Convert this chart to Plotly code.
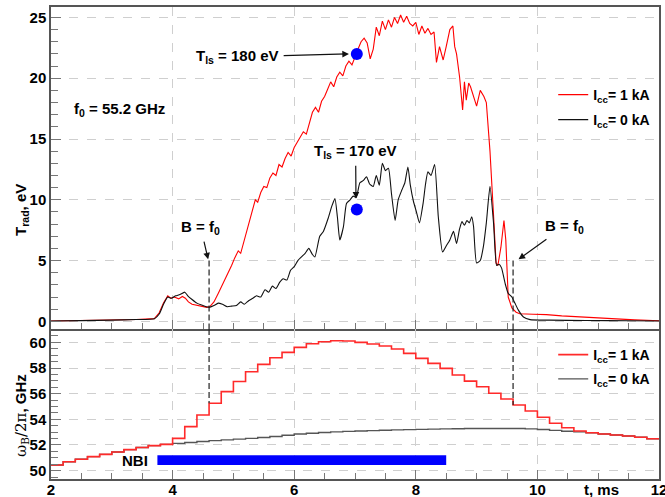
import plotly.graph_objects as go

# ---------------- data ----------------
# top panel: radiation temperature, eV
t_red = [2.0, 2.5, 3.0, 3.4, 3.7, 3.78, 3.85, 3.92, 3.97, 4.03, 4.1, 4.16, 4.21, 4.26, 4.32, 4.4, 4.48,
         4.56, 4.62, 4.68, 4.75, 4.82, 4.9, 4.97, 5.02, 5.08, 5.12, 5.17, 5.22, 5.27, 5.32, 5.36, 5.4,
         5.45, 5.5, 5.55, 5.6, 5.65, 5.7, 5.75, 5.8, 5.85, 5.9, 5.95, 6.0, 6.05, 6.1, 6.15, 6.2, 6.25,
         6.3, 6.35, 6.4, 6.45, 6.5, 6.55, 6.6, 6.65, 6.7, 6.75, 6.8, 6.85, 6.9, 6.95, 7.0, 7.05, 7.1,
         7.15, 7.2, 7.25, 7.3, 7.35, 7.4, 7.45, 7.5, 7.55, 7.6, 7.65, 7.7, 7.75, 7.8, 7.85, 7.9, 7.95,
         8.0, 8.05, 8.1, 8.15, 8.2, 8.25, 8.3, 8.34, 8.39, 8.45, 8.5, 8.56, 8.61, 8.64, 8.67, 8.72,
         8.77, 8.8, 8.83, 8.87, 8.9, 8.96, 9.0, 9.06, 9.12, 9.16, 9.22, 9.28, 9.32, 9.35, 9.4, 9.45,
         9.48, 9.52, 9.58, 9.65, 9.71, 9.93, 10.15, 10.4, 10.7, 11.0, 11.25, 11.6, 12.0]
trad_red = [0.03, 0.06, 0.1, 0.15, 0.22, 0.7, 1.5, 2.1, 1.9, 2.0, 1.85, 2.05, 1.9, 1.6, 1.4, 1.3, 1.2,
            1.15, 1.25, 1.6, 2.3, 3.0, 3.9, 4.6, 5.2, 5.8, 5.6, 6.5, 7.3, 8.2, 9.3, 10.0, 9.8,
            10.6, 11.1, 11.0, 11.8, 12.2, 12.0, 12.9, 12.7, 13.4, 13.9, 13.6, 14.3, 14.7, 15.1, 15.6, 15.4, 16.4,
            17.2, 17.6, 17.2, 18.1, 18.5, 19.1, 19.7, 19.3, 20.1, 20.5, 20.2, 21.0, 21.4, 21.1, 21.8, 22.4, 23.0,
            23.3, 22.9, 21.6, 22.4, 24.2, 23.5, 24.7, 24.0, 24.8, 24.2, 25.0, 24.5, 25.2, 24.6, 25.1, 24.5, 24.3,
            24.6, 23.6, 24.3, 23.7, 24.1, 23.6, 23.8, 21.3, 22.6, 21.5, 22.6, 24.0, 24.3, 22.6, 22.0, 20.1,
            17.4, 19.7, 18.2, 19.6, 19.3, 18.2, 17.7, 19.0, 18.5, 18.0, 14.0, 8.6, 4.8, 4.6, 6.1, 8.3,
            6.7, 2.0, 1.1, 0.75, 0.62, 0.58, 0.55, 0.45, 0.36, 0.28, 0.2, 0.12, 0.05]

t_black = [2.0, 2.5, 3.0, 3.4, 3.7, 3.78, 3.85, 3.92, 3.98, 4.05, 4.12, 4.2, 4.25, 4.32, 4.4, 4.5, 4.6,
           4.68, 4.75, 4.82, 4.9, 4.97, 5.05, 5.12, 5.18, 5.25, 5.32, 5.38, 5.45, 5.52, 5.58, 5.64, 5.7,
           5.76, 5.82, 5.88, 5.94, 6.0, 6.06, 6.12, 6.18, 6.24, 6.3, 6.34, 6.42, 6.48, 6.56, 6.62, 6.67,
           6.71, 6.75, 6.81, 6.86, 6.92, 6.97, 7.02, 7.08, 7.14, 7.19, 7.24, 7.3, 7.35, 7.4, 7.45, 7.5,
           7.55, 7.6, 7.66, 7.71, 7.77, 7.82, 7.87, 7.91, 7.96, 8.01, 8.06, 8.12, 8.16, 8.2, 8.25, 8.31,
           8.37, 8.44, 8.5, 8.56, 8.62, 8.67, 8.72, 8.76, 8.8, 8.84, 8.88, 8.92, 8.95, 9.0, 9.06, 9.11,
           9.16, 9.22, 9.28, 9.33, 9.37, 9.41, 9.47, 9.52, 9.58, 9.63, 9.69, 9.77, 9.88, 10.2, 10.8, 11.5, 12.0]
trad_black = [0.03, 0.06, 0.1, 0.15, 0.22, 0.6, 1.4, 2.0, 1.9, 2.1, 2.2, 2.4, 2.1, 1.8, 1.5, 1.3, 1.15,
              1.3, 1.5, 1.4, 1.2, 1.25, 1.3, 1.6, 1.4, 1.7, 1.9, 2.1, 2.0, 2.6, 2.4, 2.9, 2.7,
              3.2, 3.5, 3.4, 4.2, 4.5, 5.0, 5.3, 5.6, 6.0, 5.5, 5.3, 7.0, 7.4, 8.5, 9.5, 10.1,
              8.6, 6.7, 7.8, 9.7, 10.0, 10.3, 10.2, 11.4, 11.6, 11.9, 11.3, 11.1, 12.0, 11.2, 13.0, 12.4,
              12.6, 10.5, 8.3, 10.0, 10.8, 11.4, 12.7, 11.2, 9.9, 9.0, 8.1, 9.7, 11.3, 12.3, 12.0, 12.9,
              8.6, 5.7, 6.2, 6.7, 7.4, 6.4, 7.6, 8.2, 7.9, 8.3, 8.1, 8.6, 7.8, 4.8, 5.0, 6.1,
              8.1, 11.1, 8.0, 4.6, 4.7, 4.4, 3.1, 2.3, 2.0, 1.5, 0.9, 0.36, 0.14, 0.1, 0.07, 0.05, 0.03]

# bottom panel: omega_B / 2pi, GHz (piecewise constant, 0.2 ms steps)
t_steps = [2.0, 2.2, 2.4, 2.6, 2.8, 3.0, 3.2, 3.4, 3.6, 3.8, 4.0, 4.2, 4.4, 4.6, 4.8, 5.0, 5.2,
           5.4, 5.6, 5.8, 6.0, 6.2, 6.4, 6.6, 6.8, 7.0, 7.2, 7.4, 7.6, 7.8, 8.0, 8.2, 8.4, 8.6,
           8.8, 9.0, 9.2, 9.4, 9.6, 9.8, 10.0, 10.2, 10.4, 10.6, 10.8, 11.0, 11.2, 11.4, 11.6, 11.8, 12.0]
fb_red = [50.44, 50.70, 50.89, 51.09, 51.27, 51.46, 51.64, 51.80, 51.95, 52.05, 52.52, 53.43, 54.34,
          55.25, 56.16, 56.95, 57.71, 58.28, 58.80, 59.22, 59.61, 59.89, 60.05, 60.12, 60.10, 60.00,
          59.87, 59.71, 59.48, 59.14, 58.75, 58.36, 57.97, 57.45, 56.98, 56.54, 56.03, 55.58, 55.12,
          54.65, 54.16, 53.69, 53.35, 53.09, 52.96, 52.86, 52.78, 52.70, 52.60, 52.49, 52.49]
fb_black = [50.44, 50.70, 50.89, 51.09, 51.27, 51.46, 51.64, 51.80, 51.95, 52.05, 52.13, 52.20, 52.27,
            52.34, 52.40, 52.46, 52.52, 52.58, 52.66, 52.76, 52.86, 52.92, 52.97, 53.02, 53.06, 53.09,
            53.12, 53.15, 53.18, 53.20, 53.22, 53.24, 53.26, 53.27, 53.28, 53.28, 53.28, 53.28, 53.28,
            53.26, 53.21, 53.14, 53.07, 53.02, 52.96, 52.86, 52.78, 52.70, 52.60, 52.49, 52.49]

# markers and annotations
t_ls_time = [7.03, 7.03]
t_ls_trad = [22.0, 9.2]
t_ls_text = ["T<sub>ls</sub> = 180 eV", "T<sub>ls</sub> = 170 eV"]
b_f0_times = [4.6, 9.6]
b_f0_trad = 5.0
nbi_start, nbi_end = 3.75, 8.5
nbi_low, nbi_high = 50.45, 51.2
legend_names = ["I<sub>cc</sub>= 1 kA", "I<sub>cc</sub>= 0 kA"]

# ---------------- figure ----------------
RED = "#ff0000"
BLK = "#111111"
FONT = "Liberation Sans, Arial, sans-serif"
top_rng = [-0.63, 25.86]
bot_rng = [49.35, 61.04]
split = 0.3178

fig = go.Figure()
fig.add_trace(go.Scatter(x=t_red, y=trad_red, mode="lines", line=dict(color=RED, width=1.1),
                         name=legend_names[0], legend="legend", xaxis="x", yaxis="y"))
fig.add_trace(go.Scatter(x=t_black, y=trad_black, mode="lines",
                         line=dict(color=BLK, width=1.1, shape="spline", smoothing=0.5),
                         name=legend_names[1], legend="legend2", xaxis="x", yaxis="y"))
fig.add_trace(go.Scatter(x=t_ls_time, y=t_ls_trad, mode="markers", showlegend=False,
                         marker=dict(color="#0000ff", size=12), xaxis="x", yaxis="y"))
fig.add_trace(go.Scatter(x=t_steps, y=fb_black, mode="lines", line=dict(color="#555555", width=1.4, shape="hv"),
                         name=legend_names[1], legend="legend4", xaxis="x2", yaxis="y2"))
fig.add_trace(go.Scatter(x=t_steps, y=fb_red, mode="lines", line=dict(color="#ff2a2a", width=1.6, shape="hv"),
                         name=legend_names[0], legend="legend3", xaxis="x2", yaxis="y2"))

grid = dict(showgrid=True, gridcolor="#cfcfcf", griddash="dash", gridwidth=1)
axline = dict(showline=True, linecolor="#555555", linewidth=1.5, zeroline=False, automargin=False)
tickfont = dict(family=FONT, size=15, color="black", weight="bold")

xcommon = dict(range=[2, 12], dtick=2, tick0=2, ticks="inside", ticklen=9, tickcolor="#777777",
               minor=dict(dtick=0.5, ticks="inside", ticklen=6, tickcolor="#777777", showgrid=False),
               **grid, **axline)
fig.update_layout(
    template="none",
    xaxis=dict(domain=[0, 1], anchor="y", showticklabels=False, mirror=True, **xcommon),
    yaxis=dict(domain=[split, 1], anchor="x", range=top_rng, dtick=5, tick0=0, ticks="inside", ticklen=10,
               tickcolor="#777777", tickfont=tickfont, mirror=True,
               minor=dict(dtick=1, ticks="inside", ticklen=7, tickcolor="#777777", showgrid=False),
               **grid, **axline),
    xaxis2=dict(domain=[0, 1], anchor="y2", matches="x", showticklabels=True, tickfont=tickfont,
                tickvals=[2, 4, 6, 8, 10, 12], mirror=False, ticklabeloverflow="allow",
                ticklabelstandoff=-4, **xcommon),
    yaxis2=dict(domain=[0, split], anchor="x2", range=bot_rng, dtick=2, tick0=50, ticks="inside", ticklen=10,
                tickcolor="#777777", tickfont=tickfont, mirror=True,
                minor=dict(dtick=0.5, ticks="inside", ticklen=7, tickcolor="#777777", showgrid=False),
                **grid, **axline),
)

# legends: one item each so they can be placed like the reference
legfont = dict(family=FONT, size=14, color="black", weight="bold")
for key, ypos in [("legend", 0.8136), ("legend2", 0.7606), ("legend3", 0.2627), ("legend4", 0.2112)]:
    fig.update_layout({key: dict(x=0.826, y=ypos, xanchor="left", yanchor="middle", font=legfont,
                                 bgcolor="rgba(0,0,0,0)", borderwidth=0, tracegroupgap=0)})

# dashed B = f0 lines crossing both panels
for tb in b_f0_times:
    fb_at = fb_red[t_steps.index(tb)]
    fig.add_shape(type="line", xref="x", yref="y", x0=tb, x1=tb, y0=b_f0_trad, y1=top_rng[0],
                  line=dict(color="#222222", width=1.2, dash="6px,3px"))
    fig.add_shape(type="line", xref="x2", yref="y2", x0=tb, x1=tb, y0=bot_rng[1], y1=fb_at,
                  line=dict(color="#222222", width=1.2, dash="6px,3px"))

# NBI bar
fig.add_shape(type="rect", xref="x2", yref="y2", x0=nbi_start, x1=nbi_end, y0=nbi_low, y1=nbi_high,
              fillcolor="#0000ff", line=dict(width=0))

afont = dict(family=FONT, size=15, color="black", weight="bold")
arrow = dict(showarrow=True, arrowhead=2, arrowsize=1.1, arrowwidth=1.2, arrowcolor="#111111",
             xref="x", yref="y", axref="x", ayref="y", standoff=0, startstandoff=3, font=afont)
ann = []
# labels with arrows: (text, text centre, arrow tip)
labels = [(t_ls_text[0], (5.07, 21.75), (6.90, 22.0)),
          (t_ls_text[1], (7.01, 13.95), (7.016, 10.1)),
          ("B = f<sub>0</sub>", (4.464, 7.7), (4.584, 5.1)),
          ("B = f<sub>0</sub>", (10.44, 7.8), (9.69, 5.1))]
for txt, (tx, ty), (hx, hy) in labels:
    ann.append(dict(text=txt, x=hx, y=hy, ax=tx, ay=ty, **arrow))
ann.append(dict(xref="x", yref="y", x=3.12, y=17.4, text="f<sub>0</sub> = 55.2 GHz", showarrow=False,
                xanchor="center", yanchor="middle", font=afont))
ann.append(dict(xref="x2", yref="y2", x=3.63, y=(nbi_low + nbi_high) / 2, text="NBI", showarrow=False,
                xanchor="right", yanchor="middle", font=afont))
# axis titles
ann.append(dict(xref="paper", yref="paper", x=-0.0477, y=0.57, text="T<sub>rad</sub>, eV", textangle=-90,
                showarrow=False, xanchor="center", yanchor="middle", font=afont))
ann.append(dict(xref="paper", yref="paper", x=-0.0477, y=0.1356,
                text='<span style="font-family:DejaVu Serif;font-weight:normal">ω<sub>B</sub>/2π</span>, GHz',
                textangle=-90, showarrow=False, xanchor="center", yanchor="middle", font=afont))
ann.append(dict(xref="paper", yref="paper", x=0.906, y=-0.023, text="t, ms", showarrow=False,
                xanchor="center", yanchor="middle", font=afont))
fig.update_layout(annotations=ann)

fig.update_layout(width=665, height=497, margin=dict(l=51, r=6, t=7, b=18, autoexpand=False),
                  paper_bgcolor="white", plot_bgcolor="white", showlegend=True,
                  font=dict(family=FONT, color="black"))
fig.write_html("out.html", config={"displayModeBar": False},
               post_script="document.body.style.margin='0';document.body.style.overflow='hidden';")
